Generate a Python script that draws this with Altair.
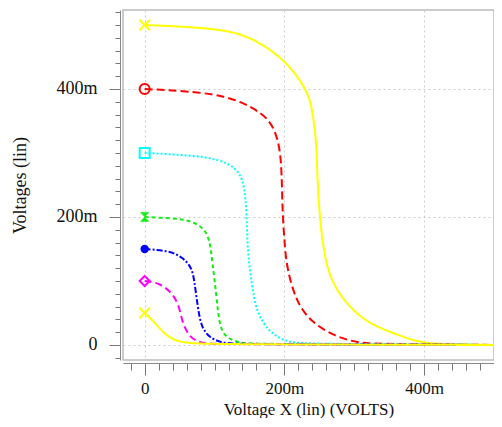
import altair as alt
import pandas as pd

# ---- data (values in millivolts) ----
X_500 = [0, 107, 154, 202, 233, 240, 246, 247, 250, 253, 260, 274, 297, 321, 354, 389, 421, 500]
Y_500 = [500, 495, 481, 445, 398, 367, 316, 262, 211, 175, 122, 86, 55, 34, 19, 5, 1, 0]

X_400 = [0, 107, 154, 179, 190, 196, 197, 200, 203, 217, 240, 274, 307, 336, 500]
Y_400 = [400, 394, 372, 352, 325, 289, 211, 164, 122, 66, 34, 12.5, 3, 1.5, 0]

X_300 = [0, 40, 89, 121, 136, 143, 146, 147, 153, 160, 179, 203, 226, 500]
Y_300 = [300, 298, 294, 284, 269, 247, 206, 148, 97, 50, 19, 5, 1.5, 0]

X_200 = [0, 40, 64, 83, 93, 97, 103, 107, 117, 136, 154, 500]
Y_200 = [200, 198, 195, 184, 167, 128, 75, 28, 11, 3, 1.5, 0]

X_150 = [0, 36, 54, 67, 71, 76, 81, 93, 111, 136, 500]
Y_150 = [150, 147, 137, 122, 102, 59, 28, 11, 3, 1, 0]

X_100 = [0, 21, 40, 50, 54, 64, 79, 100, 500]
Y_100 = [100, 97, 81, 59, 34, 12.5, 3, 1, 0]

X_050 = [0, 11, 26, 40, 60, 93, 500]
Y_050 = [50, 39, 20, 8, 3, 1, 0]

SERIES = ["500m", "400m", "300m", "200m", "150m", "100m", "50m"]
XS = [X_500, X_400, X_300, X_200, X_150, X_100, X_050]
YS = [Y_500, Y_400, Y_300, Y_200, Y_150, Y_100, Y_050]
COLORS = ["#ffff00", "#ff0000", "#00ffff", "#11ee11", "#0000ff", "#ff00ff", "#ffff00"]
DASHES = [[1, 0], [8, 4], [2, 2], [4, 3], [6, 2, 2, 2], [7, 4], [1, 0]]

XPATH = "M-1,-1L1,1M-1,1L1,-1"
HOURGLASS = "M-1,-1L1,-1L-1,1L1,1Z"
SHAPES = [XPATH, "circle", "square", HOURGLASS, "circle", "diamond", XPATH]
FILLED = [False, False, False, True, True, False, False]
SIZES = [110, 100, 100, 90, 70, 100, 110]

FONT = "Liberation Serif"
MAJOR = "datum.value % 200 === 0"
LBL = "datum.value % 200 === 0 ? (datum.value === 0 ? '0' : datum.value + 'm') : ''"

x_axis = alt.Axis(
    values=list(range(-20, 501, 20)),
    labelExpr=LBL,
    tickSize={"condition": {"test": MAJOR, "value": 12}, "value": 7},
    gridOpacity={"condition": {"test": MAJOR, "value": 1}, "value": 0},
    grid=True, gridDash=[2, 3], gridColor="#cccccc",
    offset=3, domainColor="#888888", tickColor="#777777",
    labelPadding=5, labelFontSize=17, labelOverlap=False, labelFlush=False,
    titleBaseline="alphabetic", titleY=51, titleFontSize=17, title="Voltage X (lin) (VOLTS)",
)
y_axis = alt.Axis(
    values=list(range(-20, 521, 20)),
    labelExpr=LBL,
    tickSize={"condition": {"test": MAJOR, "value": 11}, "value": 5},
    gridOpacity={"condition": {"test": MAJOR, "value": 1}, "value": 0},
    grid=True, gridDash=[2, 3], gridColor="#cccccc",
    offset=3, domainColor="#888888", tickColor="#777777",
    labelPadding=12, labelOverlap=False, labelFlush=False,
    titlePadding=26, title="Voltages (lin)",
)

xs = alt.Scale(domain=[-31, 500], nice=False, zero=False)
ys = alt.Scale(domain=[-23.5, 523.4], nice=False, zero=False)

layers = []
for name, xv, yv, col, dash in zip(SERIES, XS, YS, COLORS, DASHES):
    df = pd.DataFrame({"x": xv, "y": yv})
    layers.append(
        alt.Chart(df).mark_line(color=col, strokeDash=dash, strokeWidth=2, interpolate="basis").encode(
            x=alt.X("x:Q", scale=xs, axis=x_axis),
            y=alt.Y("y:Q", scale=ys, axis=y_axis),
        )
    )

for name, xv, yv, col, shp, fl, sz in zip(SERIES, XS, YS, COLORS, SHAPES, FILLED, SIZES):
    df = pd.DataFrame({"x": [xv[0]], "y": [yv[0]]})
    layers.append(
        alt.Chart(df).mark_point(shape=shp, filled=fl, color=col, size=sz, strokeWidth=2, opacity=1).encode(
            x=alt.X("x:Q", scale=xs, axis=x_axis),
            y=alt.Y("y:Q", scale=ys, axis=y_axis),
        )
    )

chart = alt.layer(*layers).properties(
    width=371, height=350,
    autosize=alt.AutoSizeParams(type="none"),
    padding={"left": 115, "top": 2, "right": 0, "bottom": 58},
).configure_view(stroke="#bbbbbb", strokeWidth=1.5).configure_axis(
    labelFont=FONT, labelFontSize=18, labelColor="#111111",
    titleFont=FONT, titleFontSize=18, titleFontWeight="normal", titleColor="#111111",
)

chart.save("out.html", embed_options={"renderer": "svg", "actions": False})
